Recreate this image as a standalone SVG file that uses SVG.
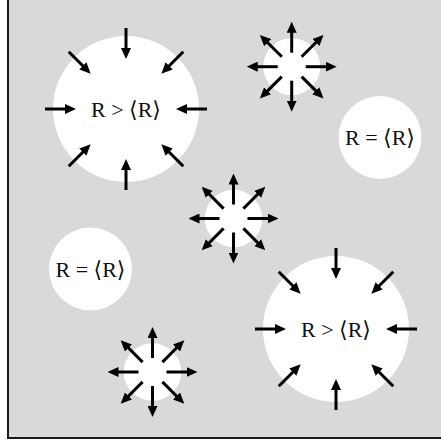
<svg xmlns="http://www.w3.org/2000/svg" xmlns:xlink="http://www.w3.org/1999/xlink" width="441" height="443" viewBox="0 0 441 443">
  <style>
    .bubble { fill: #ffffff; }
    .arr { stroke: #000; stroke-width: 3; fill: none; marker-end: url(#head); }
    .lbl { font-family: "Liberation Serif", "DejaVu Serif", serif; font-size: 22px; fill: #111; text-anchor: middle; }
  </style>
  <defs>
    <marker id="head" viewBox="0 -5 11 10" markerWidth="11" markerHeight="10" markerUnits="userSpaceOnUse" refX="2" refY="0" orient="auto">
      <path d="M0,-5 L11,0 L0,5 z" fill="#000"/>
    </marker>
    <g id="in8">
      <line class="arr" x1="0" y1="-81" x2="0" y2="-59"/>
      <line class="arr" x1="0" y1="81" x2="0" y2="59"/>
      <line class="arr" x1="-81" y1="0" x2="-59" y2="0"/>
      <line class="arr" x1="81" y1="0" x2="59" y2="0"/>
      <line class="arr" x1="-57.28" y1="-57.28" x2="-41.72" y2="-41.72"/>
      <line class="arr" x1="57.28" y1="-57.28" x2="41.72" y2="-41.72"/>
      <line class="arr" x1="-57.28" y1="57.28" x2="-41.72" y2="41.72"/>
      <line class="arr" x1="57.28" y1="57.28" x2="41.72" y2="41.72"/>
    </g>
    <g id="out8">
      <line class="arr" x1="0" y1="-14" x2="0" y2="-36"/>
      <line class="arr" x1="0" y1="14" x2="0" y2="36"/>
      <line class="arr" x1="-14" y1="0" x2="-36" y2="0"/>
      <line class="arr" x1="14" y1="0" x2="36" y2="0"/>
      <line class="arr" x1="-9.9" y1="-9.9" x2="-25.46" y2="-25.46"/>
      <line class="arr" x1="9.9" y1="-9.9" x2="25.46" y2="-25.46"/>
      <line class="arr" x1="-9.9" y1="9.9" x2="-25.46" y2="25.46"/>
      <line class="arr" x1="9.9" y1="9.9" x2="25.46" y2="25.46"/>
    </g>
  </defs>
  <rect x="0" y="0" width="441" height="443" fill="#ffffff"/>
  <rect x="8" y="-5" width="440" height="443" fill="#d9d9d9" stroke="#1a1a1a" stroke-width="2"/>

  <g id="big1">
    <circle class="bubble" cx="126" cy="109" r="73"/>
    <text class="lbl" x="126" y="116.5">R &gt; ⟨R⟩</text>
  </g>
  <g id="small1">
    <circle class="bubble" cx="291.7" cy="66.7" r="28.5"/>
  </g>
  <g id="eq1">
    <circle class="bubble" cx="380" cy="137.5" r="41.5"/>
    <text class="lbl" x="380" y="145">R = ⟨R⟩</text>
  </g>
  <g id="small2">
    <circle class="bubble" cx="233.5" cy="218.5" r="28.7"/>
  </g>
  <g id="eq2">
    <circle class="bubble" cx="90.5" cy="269" r="41.5"/>
    <text class="lbl" x="90.5" y="276.5">R = ⟨R⟩</text>
  </g>
  <g id="big2">
    <circle class="bubble" cx="336" cy="329" r="73"/>
    <text class="lbl" x="336" y="336.5">R &gt; ⟨R⟩</text>
  </g>
  <g id="small3">
    <circle class="bubble" cx="152.5" cy="372" r="28.8"/>
  </g>

  <g id="connectors">
    <use xlink:href="#in8" transform="translate(126,109)"/>
    <use xlink:href="#in8" transform="translate(336,329)"/>
    <use xlink:href="#out8" transform="translate(291.7,66.7)"/>
    <use xlink:href="#out8" transform="translate(233.5,218.5)"/>
    <use xlink:href="#out8" transform="translate(152.5,372)"/>
  </g>
</svg>
